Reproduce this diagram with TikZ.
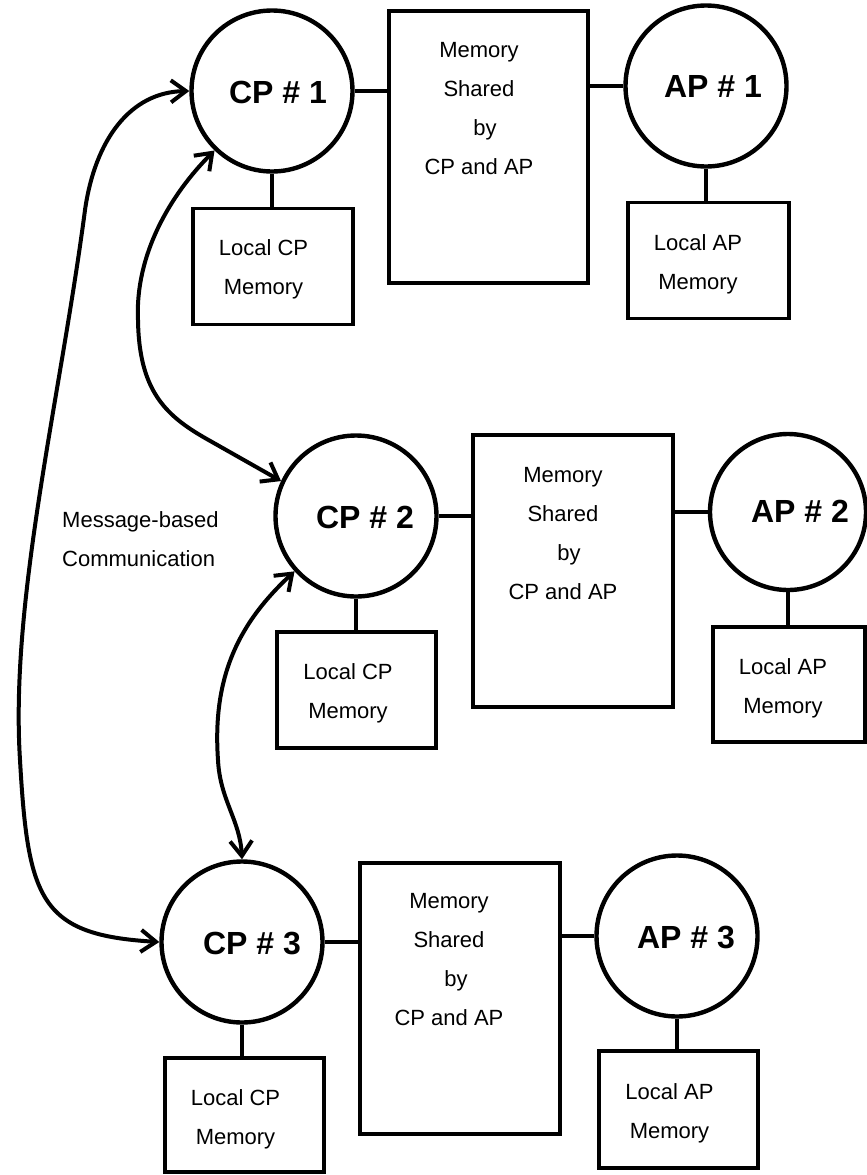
\documentclass[tikz,border=0pt]{standalone}
\usepackage{fontspec}
\setmainfont{Liberation Sans}
\usetikzlibrary{arrows.meta}
\begin{document}
\begin{tikzpicture}[x=1pt,y=-1pt,
  proc/.style={draw, circle, line width=4.4pt, minimum size=161pt, inner sep=0pt},
  membox/.style={draw, rectangle, line width=3.8pt, inner sep=0pt},
  shared/.style={membox, minimum width=200pt, minimum height=272pt},
  localbox/.style={membox, minimum width=160pt, minimum height=116pt},
  plabel/.style={font=\fontsize{32}{38}\selectfont\bfseries, inner sep=0pt},
  mtext/.style={font=\fontsize{22}{39}\selectfont, align=center, inner sep=0pt},
  link/.style={line width=3.6pt},
  msg/.style={line width=4pt, >={Straight Barb[length=15pt,width=22pt]}, <->},
]
\fill[white] (0,0) rectangle (867,1175);
\useasboundingbox (0,0) rectangle (867,1175);

% processors
\node[proc] (CP1) at (272,91) {};
\node[proc] (AP1) at (706,86) {};
\node[proc] (CP2) at (356,516) {};
\node[proc, minimum size=156pt] (AP2) at (788,512) {};
\node[proc] (CP3) at (242,942) {};
\node[proc] (AP3) at (677,936) {};

\node[plabel] (CP1t) at (278,92)  {CP \# 1};
\node[plabel] (AP1t) at (713,86)  {AP \# 1};
\node[plabel] (CP2t) at (365,517) {CP \# 2};
\node[plabel] (AP2t) at (800,511) {AP \# 2};
\node[plabel] (CP3t) at (252,943) {CP \# 3};
\node[plabel] (AP3t) at (686,937) {AP \# 3};

% shared memories
\node[shared, minimum width=199pt] (M1) at (488.5,147) {};
\node[shared] (M2) at (573,571) {};
\node[shared, minimum height=271pt] (M3) at (460,998.5) {};
\node[mtext] (M1t) at (479,108.5) {Memory\\Shared\\\hspace*{12pt}by\\CP and AP};
\node[mtext] (M2t) at (563,534)   {Memory\\Shared\\\hspace*{12pt}by\\CP and AP};
\node[mtext] (M3t) at (449,959.5) {Memory\\Shared\\\hspace*{14pt}by\\CP and AP};

% local memories
\node[localbox] (L1) at (273,266.5) {};
\node[localbox, minimum width=161pt] (LA1) at (708.5,260.5) {};
\node[localbox, minimum width=159pt] (L2) at (356.5,690) {};
\node[localbox, minimum width=152pt, minimum height=115pt] (LA2) at (789,684.5) {};
\node[localbox, minimum width=159pt, minimum height=114pt] (L3) at (244.5,1115) {};
\node[localbox, minimum width=159pt, minimum height=117pt] (LA3) at (678.5,1109.5) {};

\node[mtext] (L1t)  at (263.5,269.5) {Local CP\\Memory};
\node[mtext] (LA1t) at (698,264)     {Local AP\\Memory};
\node[mtext] (L2t)  at (348,693)     {Local CP\\Memory};
\node[mtext] (LA2t) at (783,688)     {Local AP\\Memory};
\node[mtext] (L3t)  at (235.5,1119)  {Local CP\\Memory};
\node[mtext] (LA3t) at (669.5,1113)  {Local AP\\Memory};

% links between processors and memories
\draw[link] (CP1.east) -- (CP1.east -| M1.west);
\draw[link] (AP1.west) -- (AP1.west -| M1.east);
\draw[link] (CP2.east) -- (CP2.east -| M2.west);
\draw[link] (AP2.west) -- (AP2.west -| M2.east);
\draw[link] (CP3.east) -- (CP3.east -| M3.west);
\draw[link] (AP3.west) -- (AP3.west -| M3.east);

\draw[link] (CP1.south) -- (CP1.south |- L1.north);
\draw[link] (AP1.south) -- (AP1.south |- LA1.north);
\draw[link] (CP2.south) -- (CP2.south |- L2.north);
\draw[link] (AP2.south) -- (AP2.south |- LA2.north);
\draw[link] (CP3.south) -- (CP3.south |- L3.north);
\draw[link] (AP3.south) -- (AP3.south |- LA3.north);

% message-based communication between the control processors
\draw[msg] (CP1.west) .. controls (130,92) and (95,140) .. (85,210)
  .. controls (60,400) and (10,600) .. (20,760)
  .. controls (28,900) and (40,935) .. (CP3.west);
\draw[msg] (CP1.226) .. controls (170,195) and (135,255) .. (138,320)
  .. controls (139,390) and (165,415) .. (205,438) -- (CP2.155);
\draw[msg] (CP2.222) .. controls (240,622) and (212,675) .. (218,760)
  .. controls (220,800) and (240,820) .. (CP3.north);

\node[font=\fontsize{22}{39}\selectfont, align=left, anchor=west, inner sep=0pt]
  (msgt) at (62,539.5) {Message-based\\Communication};
\end{tikzpicture}
\end{document}
